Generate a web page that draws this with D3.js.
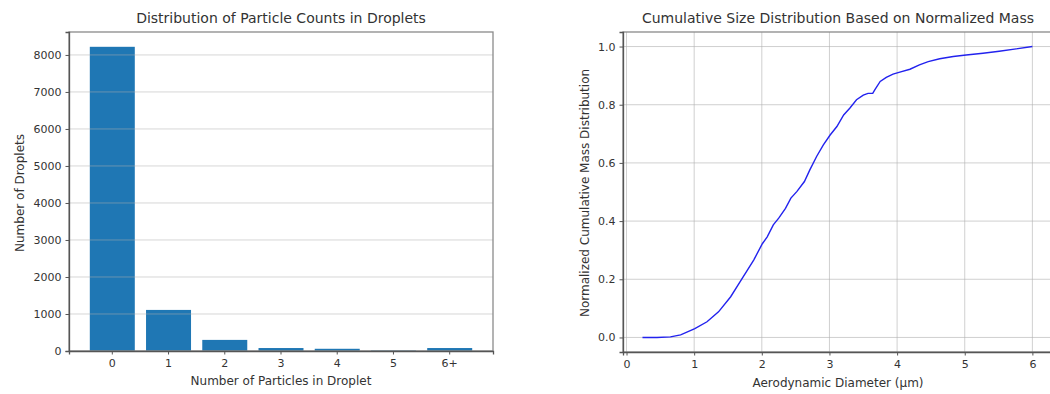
<!DOCTYPE html>
<html><head><meta charset="utf-8">
<script src="https://cdn.jsdelivr.net/npm/d3@7"></script>
<style>
body{margin:0;background:#fff;}
svg{display:block;font-family:"DejaVu Sans",sans-serif;}
.tick text{fill:#333;}
</style></head>
<body><svg id="c" width="1050" height="394"></svg>
<script>
// Left chart data
const categories = ["0","1","2","3","4","5","6+"];
const dropletCounts = [8220, 1110, 300, 80, 60, 15, 80];
const countTicks = [0,1000,2000,3000,4000,5000,6000,7000,8000];

// Right chart data
const diameter = [0.236,0.45,0.65,0.80,1.01,1.19,1.36,1.54,1.68,1.88,2.01,2.08,2.17,2.25,2.35,2.43,2.52,2.63,2.71,2.81,2.91,3.01,3.11,3.21,3.30,3.40,3.50,3.57,3.64,3.67,3.75,3.84,3.94,4.04,4.19,4.33,4.46,4.63,4.83,5.02,5.27,5.51,5.76,6.0];
const cumMass = [0,0,0.002,0.009,0.030,0.054,0.088,0.140,0.192,0.266,0.323,0.346,0.387,0.410,0.444,0.479,0.502,0.536,0.576,0.622,0.662,0.696,0.725,0.765,0.788,0.817,0.833,0.839,0.839,0.851,0.880,0.894,0.905,0.912,0.922,0.937,0.948,0.958,0.966,0.971,0.977,0.984,0.992,1.0];
const diamTicks = [0,1,2,3,4,5,6];
const massTicks = [0,0.2,0.4,0.6,0.8,1.0];

const svg = d3.select("#c");
const fs = 11, lfs = 12, tfs = 14;

// ---------- Left chart ----------
{
  const L=69, R=493, T=32, B=351;
  const x = d3.scaleBand().domain(categories).range([L,R]).paddingInner(0.2).paddingOuter(0.37);
  const y = d3.scaleLinear().domain([0, 8620]).range([B,T]);
  const g = svg.append("g");
  g.selectAll("rect.bar").data(categories).join("rect").attr("class","bar")
    .attr("x",d=>x(d)).attr("width",x.bandwidth())
    .attr("y",(d,i)=>y(dropletCounts[i])).attr("height",(d,i)=>B-y(dropletCounts[i]))
    .attr("fill","#1f77b4");
  g.selectAll("line.grid").data(countTicks).join("line").attr("class","grid")
    .attr("x1",L).attr("x2",R).attr("y1",d=>y(d)).attr("y2",d=>y(d))
    .attr("stroke","#b0b0b0").attr("stroke-opacity",0.5).attr("stroke-width",1);
  g.append("rect").attr("x",L).attr("y",T).attr("width",R-L).attr("height",B-T)
    .attr("fill","none").attr("stroke","#8a8a8a").attr("stroke-width",1.3);
  const ya = g.append("g").attr("transform",`translate(${L},0)`)
    .call(d3.axisLeft(y).tickValues(countTicks).tickSize(3.5).tickPadding(4).tickFormat(d3.format("d")));
  const xa = g.append("g").attr("transform",`translate(0,${B})`)
    .call(d3.axisBottom(x).tickSize(3.5).tickPadding(5));
  [ya,xa].forEach(a=>{a.select(".domain").attr("stroke","#555").attr("stroke-width",1.3);
    a.selectAll(".tick line").attr("stroke","#555");
    a.selectAll("text").attr("font-size",fs).attr("font-family","DejaVu Sans");});
  g.append("text").attr("x",281).attr("y",23).attr("text-anchor","middle")
    .attr("font-size",tfs).attr("fill","#333").text("Distribution of Particle Counts in Droplets");
  g.append("text").attr("x",281).attr("y",385).attr("text-anchor","middle")
    .attr("font-size",lfs).attr("fill","#333").text("Number of Particles in Droplet");
  g.append("text").attr("transform",`translate(24,${193}) rotate(-90)`).attr("text-anchor","middle")
    .attr("font-size",lfs).attr("fill","#333").text("Number of Droplets");
}

// ---------- Right chart ----------
{
  const L=623, R=1052, T=32, B=352;
  const x = d3.scaleLinear().domain([-0.052, 6.29]).range([L,R]);
  const y = d3.scaleLinear().domain([-0.05, 1.05]).range([B,T]);
  const g = svg.append("g");
  g.selectAll("line.gx").data(diamTicks).join("line").attr("class","gx")
    .attr("x1",d=>x(d)).attr("x2",d=>x(d)).attr("y1",T).attr("y2",B)
    .attr("stroke","#b0b0b0").attr("stroke-opacity",0.6);
  g.selectAll("line.gy").data(massTicks).join("line").attr("class","gy")
    .attr("x1",L).attr("x2",R).attr("y1",d=>y(d)).attr("y2",d=>y(d))
    .attr("stroke","#b0b0b0").attr("stroke-opacity",0.6);
  const pts = diameter.map((d,i)=>[d,cumMass[i]]);
  g.append("path").datum(pts).attr("fill","none").attr("stroke","#2222ee").attr("stroke-width",1.4)
    .attr("d",d3.line().x(d=>x(d[0])).y(d=>y(d[1])));
  g.append("rect").attr("x",L).attr("y",T).attr("width",R-L).attr("height",B-T)
    .attr("fill","none").attr("stroke","#8a8a8a").attr("stroke-width",1.3);
  const ya = g.append("g").attr("transform",`translate(${L},0)`)
    .call(d3.axisLeft(y).tickValues(massTicks).tickSize(3.5).tickPadding(4).tickFormat(d3.format(".1f")));
  const xa = g.append("g").attr("transform",`translate(0,${B})`)
    .call(d3.axisBottom(x).tickValues(diamTicks).tickSize(3.5).tickPadding(5).tickFormat(d3.format("d")));
  [ya,xa].forEach(a=>{a.select(".domain").attr("stroke","#555").attr("stroke-width",1.3);
    a.selectAll(".tick line").attr("stroke","#555");
    a.selectAll("text").attr("font-size",fs).attr("font-family","DejaVu Sans");});
  g.append("text").attr("x",838).attr("y",23).attr("text-anchor","middle")
    .attr("font-size",tfs).attr("fill","#333").text("Cumulative Size Distribution Based on Normalized Mass");
  g.append("text").attr("x",838).attr("y",387).attr("text-anchor","middle")
    .attr("font-size",lfs).attr("fill","#333").text("Aerodynamic Diameter (µm)");
  g.append("text").attr("transform",`translate(589,${193}) rotate(-90)`).attr("text-anchor","middle")
    .attr("font-size",lfs).attr("fill","#333").text("Normalized Cumulative Mass Distribution");
}
</script></body></html>
